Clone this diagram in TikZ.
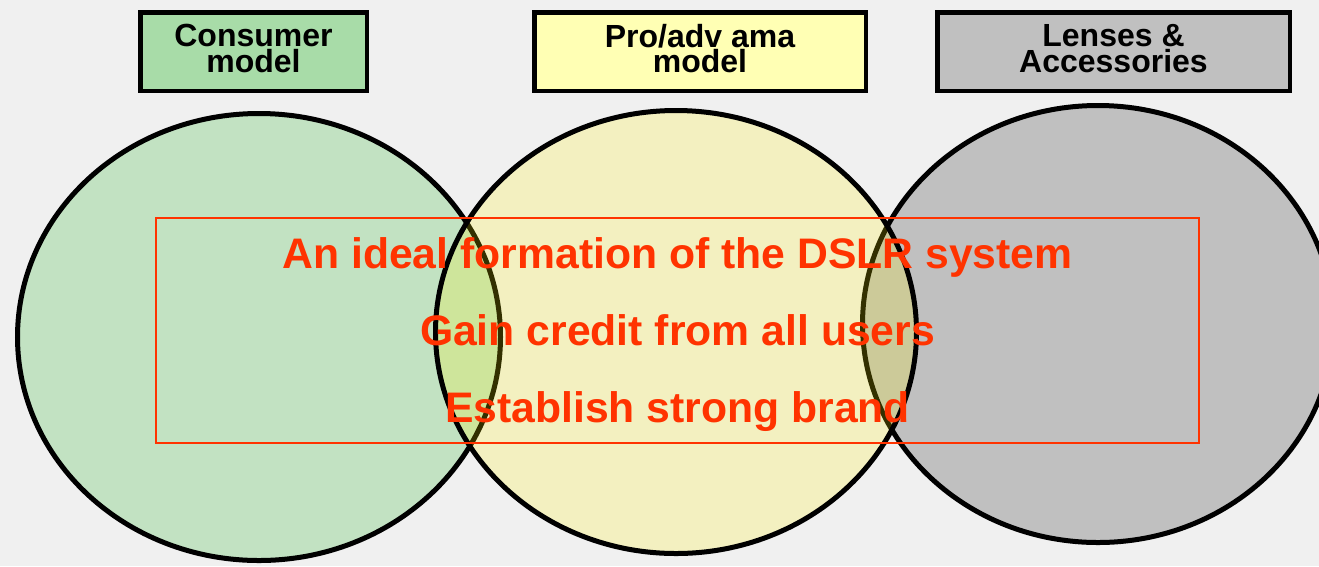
\documentclass[tikz,border=0pt]{standalone}
\usepackage{fontspec}
\setmainfont{Liberation Sans}
\definecolor{bg}{RGB}{240,240,240}
\definecolor{cgreen}{RGB}{194,226,194}
\definecolor{cgray}{RGB}{192,192,192}
\definecolor{boxgreen}{RGB}{168,220,168}
\definecolor{boxyellow}{RGB}{255,255,180}
\definecolor{boxgray}{RGB}{192,192,192}
\definecolor{msgred}{RGB}{255,51,0}
\newcommand{\dpstrut}{\rule[-6pt]{0pt}{6pt}}
\newcommand{\htstrut}{\rule{0pt}{40pt}}
\tikzset{
  ring/.style={draw=black, line width=5pt},
  hbox/.style={draw=black, line width=4.5pt, rectangle, inner sep=0pt,
    minimum height=78.5pt, align=center,
    font=\fontsize{32pt}{25.5pt}\selectfont\bfseries},
  msgbox/.style={draw=msgred, line width=1.5pt, rectangle, inner sep=0pt,
    minimum width=1043pt, minimum height=225pt, align=center, text=msgred,
    font=\fontsize{42.7pt}{77pt}\selectfont\bfseries}
}
\begin{document}
\begin{tikzpicture}[x=1pt,y=-1pt]
\useasboundingbox (0,0) rectangle (1319,566);
\clip (0,0) rectangle (1319,566);
\fill[bg] (0,0) rectangle (1319,566);
% circles
\draw[ring, fill=cgreen] (259,337) ellipse [x radius=241.5, y radius=223.5];
\draw[ring, fill=cgray] (1098,324) ellipse [x radius=235.5, y radius=218.5];
\draw[ring, fill=yellow, fill opacity=0.2, draw opacity=1] (676,332) ellipse [x radius=240.5, y radius=221.5];
% header boxes
\node[hbox, fill=boxgreen, minimum width=226.5pt] (consumer) at (253.5,51.5) {Consumer\\model\dpstrut};
\node[hbox, fill=boxyellow, minimum width=331.5pt] (pro) at (700,51.5) {Pro/adv ama\\model\dpstrut};
\node[hbox, fill=boxgray, minimum width=352.5pt] (lenses) at (1113.5,51.5) {Lenses \&\\Accessories\dpstrut};
% message box
\node[msgbox] (msg) at (677.5,330.5) {\htstrut An ideal formation of the DSLR system\\Gain credit from all users\\Establish strong brand};
\end{tikzpicture}
\end{document}
